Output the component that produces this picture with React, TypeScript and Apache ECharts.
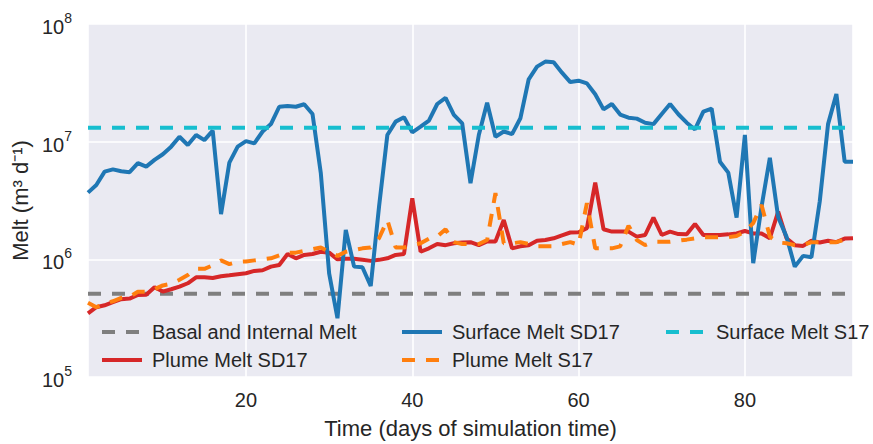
import React, { useEffect, useRef } from 'react';
import * as echarts from 'echarts';

// Day of simulation (x positions)
const days: number[] = Array.from({ length: 93 }, (_, i) => i + 1);

// Surface Melt SD17 (m^3 d^-1), one value per day
const surfaceSD17: number[] = [
  3.69e6, 4.28e6, 5.56e6, 5.82e6, 5.61e6, 5.5e6, 6.56e6, 6.14e6, 7.0e6, 7.82e6,
  9.07e6, 1.1e7, 9.37e6, 1.14e7, 1.03e7, 1.24e7, 2.42e6, 6.64e6, 9.07e6, 1.01e7,
  9.68e6, 1.22e7, 1.41e7, 1.98e7, 2.01e7, 1.98e7, 2.08e7, 1.72e7, 5.38e6, 7.6e5,
  3.16e5, 1.78e6, 8.67e5, 8.57e5, 5.94e5, 2.8e6, 1.14e7, 1.48e7, 1.61e7, 1.2e7,
  1.34e7, 1.51e7, 2.09e7, 2.36e7, 1.69e7, 1.43e7, 4.44e6, 1.14e7, 2.14e7, 1.1e7,
  1.22e7, 1.16e7, 1.58e7, 3.39e7, 4.34e7, 4.79e7, 4.73e7, 3.86e7, 3.21e7, 3.3e7,
  3.13e7, 2.53e7, 1.88e7, 2.09e7, 1.7e7, 1.6e7, 1.57e7, 1.45e7, 1.41e7, 1.72e7,
  2.09e7, 1.71e7, 1.45e7, 1.27e7, 1.8e7, 1.91e7, 6.76e6, 5.46e6, 2.26e6, 1.14e7,
  9.27e5, 2.8e6, 7.3e6, 2.28e6, 1.56e6, 8.67e5, 1.07e6, 1.04e6, 3.1e6, 1.41e7,
  2.54e7, 6.76e6, 6.76e6,
];

// Plume Melt SD17
const plumeSD17: number[] = [
  3.48e5, 3.92e5, 4.07e5, 4.32e5, 4.58e5, 4.64e5, 4.98e5, 5.0e5, 5.79e5, 5.32e5,
  5.57e5, 5.86e5, 6.26e5, 7.04e5, 7.04e5, 6.95e5, 7.18e5, 7.32e5, 7.47e5, 7.62e5,
  7.97e5, 8.08e5, 8.67e5, 8.96e5, 1.11e6, 1.02e6, 1.09e6, 1.11e6, 1.16e6, 1.14e6,
  1.0e6, 1.01e6, 1.01e6, 9.9e5, 9.7e5, 9.9e5, 1.02e6, 1.09e6, 1.11e6, 3.3e6,
  1.16e6, 1.24e6, 1.35e6, 1.32e6, 1.37e6, 1.39e6, 1.4e6, 1.32e6, 1.42e6, 1.42e6,
  2.16e6, 1.24e6, 1.29e6, 1.32e6, 1.44e6, 1.46e6, 1.51e6, 1.6e6, 1.69e6, 1.7e6,
  1.84e6, 4.49e6, 1.8e6, 1.72e6, 1.72e6, 1.72e6, 1.56e6, 1.61e6, 2.26e6, 1.61e6,
  1.72e6, 1.64e6, 1.63e6, 2.0e6, 1.61e6, 1.61e6, 1.61e6, 1.63e6, 1.66e6, 1.74e6,
  1.66e6, 1.66e6, 1.51e6, 2.54e6, 1.51e6, 1.32e6, 1.3e6, 1.44e6, 1.39e6, 1.44e6,
  1.4e6, 1.5e6, 1.51e6,
];

// Plume Melt S17
const plumeS17: number[] = [
  4.28e5, 3.92e5, 4.2e5, 4.4e5, 4.7e5, 4.8e5, 5.3e5, 5.3e5, 5.57e5, 6.0e5,
  6.2e5, 6.7e5, 7.35e5, 8.3e5, 8.3e5, 8.9e5, 9.8e5, 9.1e5, 9.5e5, 9.6e5,
  9.8e5, 1.0e6, 1.02e6, 1.08e6, 1.14e6, 1.14e6, 1.18e6, 1.22e6, 1.26e6, 1.16e6,
  1.07e6, 1.16e6, 1.2e6, 1.24e6, 1.26e6, 1.51e6, 2.16e6, 1.26e6, 1.26e6, 1.32e6,
  1.37e6, 1.5e6, 1.56e6, 1.8e6, 1.4e6, 1.35e6, 1.35e6, 1.35e6, 1.46e6, 3.65e6,
  1.37e6, 1.37e6, 1.4e6, 1.35e6, 1.29e6, 1.29e6, 1.29e6, 1.35e6, 1.4e6, 1.33e6,
  3.0e6, 1.24e6, 1.24e6, 1.24e6, 1.29e6, 1.93e6, 1.46e6, 1.32e6, 1.41e6, 1.41e6,
  1.41e6, 1.44e6, 1.47e6, 1.51e6, 1.54e6, 1.54e6, 1.54e6, 1.54e6, 1.58e6, 1.72e6,
  2.03e6, 2.9e6, 1.56e6, 1.39e6, 1.37e6, 1.32e6, 1.32e6, 1.4e6, 1.4e6, 1.4e6,
  1.4e6, 1.47e6, 1.51e6,
];

// Constant reference levels
const basalInternal: number[] = [5.1e5, 5.1e5];
const surfaceS17: number[] = [1.31e7, 1.31e7];
const constDays: number[] = [1, 93];

const xTickLabels: number[] = [20, 40, 60, 80];

const FONT = '"Liberation Sans", Arial, sans-serif';
const TXT = '#262626';
const LW = 4;

export default function App() {
  const ref = useRef<HTMLDivElement>(null);

  useEffect(() => {
    if (!ref.current) return;
    const chart = echarts.init(ref.current, null, { renderer: 'svg' });

    const pair = (xs: number[], ys: number[]) => xs.map((x, i) => [x, ys[i]]);
    const mk = (name: string, data: number[][], color: string, dashed: boolean) => ({
      name,
      type: 'line',
      data,
      symbol: 'none',
      showSymbol: false,
      silent: true,
      lineStyle: { color, width: LW, type: dashed ? [13, 11] : 'solid', cap: 'butt' },
      itemStyle: { color },
      emphasis: { disabled: true },
    });

    const legendBase = {
      orient: 'vertical',
      top: 317,
      itemWidth: 40,
      itemHeight: 20,
      itemGap: 8,
      selectedMode: false,
      itemStyle: { opacity: 0 },
      lineStyle: { width: LW },
      textStyle: { fontSize: 20, color: TXT, fontFamily: FONT, padding: [0, 0, 0, 5] },
    };

    chart.setOption({
      animation: false,
      textStyle: { fontFamily: FONT },
      grid: {
        left: 88,
        right: 20,
        top: 24,
        bottom: 67,
        show: true,
        backgroundColor: '#EAEAF2',
        borderWidth: 0,
      },
      legend: [
        { ...legendBase, left: 95, data: ['Basal and Internal Melt', 'Plume Melt SD17'] },
        { ...legendBase, left: 395, data: ['Surface Melt SD17', 'Plume Melt S17'] },
        { ...legendBase, left: 659, data: ['Surface Melt S17'] },
      ],
      xAxis: {
        type: 'value',
        min: 1,
        max: 93,
        name: 'Time (days of simulation time)',
        nameLocation: 'middle',
        nameGap: 40,
        nameTextStyle: { fontSize: 22, color: TXT, fontFamily: FONT },
        axisLine: { show: false },
        axisTick: { show: false },
        splitLine: { lineStyle: { color: '#ffffff', width: 1.6 } },
        axisLabel: {
          margin: 13,
          fontSize: 20,
          color: TXT,
          fontFamily: FONT,
          showMinLabel: false,
          showMaxLabel: false,
          formatter: (v: number) => (xTickLabels.includes(v) ? String(v) : ''),
        },
      },
      yAxis: {
        type: 'log',
        logBase: 10,
        min: 1e5,
        max: 1e8,
        name: 'Melt (m³ d⁻¹)',
        nameLocation: 'middle',
        nameGap: 57,
        nameTextStyle: { fontSize: 22, color: TXT, fontFamily: FONT },
        axisLine: { show: false },
        axisTick: { show: false },
        minorTick: { show: false },
        splitLine: { lineStyle: { color: '#ffffff', width: 1.6 } },
        axisLabel: {
          margin: 16,
          color: TXT,
          fontFamily: FONT,
          formatter: (v: number) => `{b|10}{s|${Math.round(Math.log10(v))}}`,
          rich: {
            b: { fontSize: 20, lineHeight: 26, verticalAlign: 'bottom', color: TXT, fontFamily: FONT },
            s: { fontSize: 14, lineHeight: 14, verticalAlign: 'top', color: TXT, fontFamily: FONT },
          },
        },
      },
      series: [
        mk('Basal and Internal Melt', pair(constDays, basalInternal), '#7f7f7f', true),
        mk('Plume Melt SD17', pair(days, plumeSD17), '#d62728', false),
        mk('Surface Melt SD17', pair(days, surfaceSD17), '#1f77b4', false),
        mk('Plume Melt S17', pair(days, plumeS17), '#ff7f0e', true),
        mk('Surface Melt S17', pair(constDays, surfaceS17), '#17becf', true),
      ],
    });

    return () => chart.dispose();
  }, []);

  return (
    <div
      ref={ref}
      style={{ position: 'fixed', left: 0, top: 0, width: 873, height: 444, background: '#ffffff' }}
    />
  );
}
